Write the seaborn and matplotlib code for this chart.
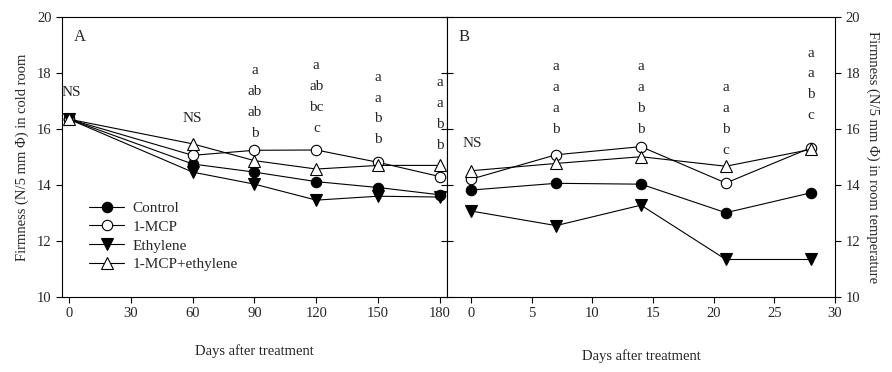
import pandas as pd
import matplotlib
matplotlib.use("Agg")
import matplotlib.pyplot as plt
import seaborn as sns

# cold room storage (panel A)
days_cold = [0, 60, 90, 120, 150, 180]
control_cold = [16.35, 14.75, 14.46, 14.12, 13.91, 13.65]
mcp_cold = [16.35, 15.06, 15.24, 15.25, 14.81, 14.30]
ethylene_cold = [16.35, 14.46, 14.03, 13.46, 13.60, 13.57]
mcp_eth_cold = [16.35, 15.47, 14.87, 14.57, 14.70, 14.70]
letters_cold = {90: ["a", "ab", "ab", "b"], 120: ["a", "ab", "bc", "c"],
                150: ["a", "a", "b", "b"], 180: ["a", "a", "b", "b"]}
letters_cold_top = {90: 18.09, 120: 18.26, 150: 17.85, 180: 17.66}

# room temperature (panel B)
days_room = [0, 7, 14, 21, 28]
control_room = [13.82, 14.06, 14.03, 13.01, 13.72]
mcp_room = [14.21, 15.08, 15.37, 14.07, 15.33]
ethylene_room = [13.07, 12.55, 13.28, 11.34, 11.34]
mcp_eth_room = [14.51, 14.77, 15.01, 14.67, 15.27]
letters_room = {7: ["a", "a", "a", "b"], 14: ["a", "a", "b", "b"],
                21: ["a", "a", "b", "c"], 28: ["a", "a", "b", "c"]}
letters_room_top = {7: 18.23, 14: 18.23, 21: 17.48, 28: 18.71}

treatments = ["Control", "1-MCP", "Ethylene", "1-MCP+ethylene"]
marker_style = {"Control": ("o", "black"), "1-MCP": ("o", "white"),
                "Ethylene": ("v", "black"), "1-MCP+ethylene": ("^", "white")}

sns.set_theme(style="ticks")
plt.rcParams["font.family"] = ["Liberation Serif", "DejaVu Serif"]

fig = plt.figure(figsize=(8.92, 3.72), dpi=100)
ax1 = fig.add_axes([0.0695, 0.2016, 0.4316, 0.7527])
ax2 = fig.add_axes([0.5011, 0.2016, 0.435, 0.7527])


def draw(ax, days, series):
    for name, vals in zip(treatments, series):
        mk, fc = marker_style[name]
        df = pd.DataFrame({"day": days, "firm": vals})
        sns.lineplot(data=df, x="day", y="firm", ax=ax, color="black", lw=0.8,
                     marker=mk, markersize=8 if mk != "o" else 7.5,
                     markerfacecolor=fc, markeredgecolor="black",
                     markeredgewidth=0.8, label=name)


draw(ax1, days_cold, [control_cold, mcp_cold, ethylene_cold, mcp_eth_cold])
draw(ax2, days_room, [control_room, mcp_room, ethylene_room, mcp_eth_room])

fs = 10.5
lfs = 11
for ax in (ax1, ax2):
    ax.set_ylim(10, 20)
    ax.set_yticks(range(10, 21, 2))
    for s in ax.spines.values():
        s.set_linewidth(0.8)
        s.set_color("black")
    ax.tick_params(labelsize=fs, width=0.8, length=4, color="black")

ax1.set_xlabel("Days after treatment", fontsize=fs, labelpad=17)
ax2.set_xlabel("Days after treatment", fontsize=fs, labelpad=21)

ax1.set_xlim(-3.4, 183.4)
ax1.set_xticks(range(0, 181, 30))
ax1.set_ylabel("Firmness (N/5 mm \u03a6) in cold room", fontsize=fs, labelpad=6)
ax1.tick_params(axis="y", left=True, right=True, labelleft=True)
# inward ticks on the shared middle spine
for t in ax1.yaxis.get_ticklines()[1::2]:
    t.set_marker(0)

ax2.set_xlim(-2, 30)
ax2.set_xticks(range(0, 31, 5))
ax2.yaxis.tick_right()
ax2.yaxis.set_label_position("right")
ax2.tick_params(axis="y", left=True, right=True, labelleft=False, labelright=True)
for t in ax2.yaxis.get_ticklines()[0::2]:
    t.set_marker(1)
ax2.set_ylabel("Firmness (N/5 mm \u03a6) in room temperature", fontsize=fs,
               rotation=270, labelpad=14)

ax1.text(0.03, 0.93, "A", transform=ax1.transAxes, fontsize=12, va="center")
ax2.text(0.03, 0.93, "B", transform=ax2.transAxes, fontsize=12, va="center")

for d, labs in letters_cold.items():
    for i, lab in enumerate(labs):
        ax1.text(d, letters_cold_top[d] - 0.745 * i, lab, ha="center", va="center", fontsize=lfs)
for d, labs in letters_room.items():
    for i, lab in enumerate(labs):
        ax2.text(d, letters_room_top[d] - 0.745 * i, lab, ha="center", va="center", fontsize=lfs)
ax1.text(1.3, 17.3, "NS", ha="center", va="center", fontsize=lfs)
ax1.text(60, 16.36, "NS", ha="center", va="center", fontsize=lfs)
ax2.text(0.1, 15.5, "NS", ha="center", va="center", fontsize=lfs)

ax1.legend(loc="lower left", bbox_to_anchor=(0.055, 0.07), frameon=False,
           fontsize=lfs, handlelength=2.3, handletextpad=0.55,
           labelspacing=0.33, borderaxespad=0)
ax2.get_legend().remove()

fig.savefig("out.png", dpi=100)
plt.close(fig)
